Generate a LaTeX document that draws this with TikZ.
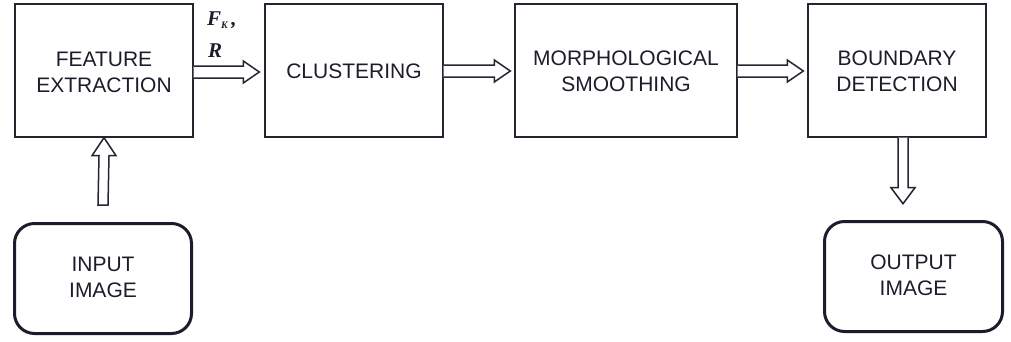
\documentclass[tikz,border=0pt]{standalone}
\usepackage{fontspec}
\setmainfont{Liberation Sans}
\newfontfamily\serifit{Liberation Serif}
\usetikzlibrary{calc}
\definecolor{ink}{HTML}{25252F}
\definecolor{inkdark}{HTML}{1C1C2C}
\newcommand\bt[2][3pt]{\raisebox{-#1}[\height][\depth]{\begin{tabular}{@{}c@{}}#2\end{tabular}}}
\tikzset{
  box/.style={draw=ink, line width=1.4pt, inner sep=0pt, align=center,
    text=inkdark, font=\fontsize{21}{26}\selectfont},
  rbox/.style={draw=inkdark, line width=3pt, rounded corners=20pt, inner sep=0pt,
    align=center, text=inkdark, font=\fontsize{21}{26}\selectfont},
  blk/.style={draw=ink, line width=1.5pt, fill=white, line join=miter},
  lbl/.style={text=inkdark, inner sep=0pt, font=\serifit\bfseries\itshape\fontsize{21}{22}\selectfont}
}
\newcommand\harrow[2]{%
  \draw[blk] ($(#1)+(0,6)$) -- ($(#2)+(-16,6)$) -- ($(#2)+(-16,11)$) -- (#2)
    -- ($(#2)+(-16,-11)$) -- ($(#2)+(-16,-6)$) -- ($(#1)+(0,-6)$);}
\newcommand\uparrowblk[2]{%
  \draw[blk] ($(#1)+(-5,0)$) -- ($(#2)+(-5,-18)$) -- ($(#2)+(-12,-18)$) -- (#2)
    -- ($(#2)+(12,-18)$) -- ($(#2)+(5,-18)$) -- ($(#1)+(5,0)$) -- cycle;}
\newcommand\downarrowblk[2]{%
  \draw[blk] ($(#1)+(-5,0)$) -- ($(#2)+(-5,16)$) -- ($(#2)+(-12,16)$) -- (#2)
    -- ($(#2)+(12,16)$) -- ($(#2)+(5,16)$) -- ($(#1)+(5,0)$);}
\begin{document}
\begin{tikzpicture}[x=1pt,y=1pt]
\useasboundingbox (0,0) rectangle (1011,341);
% blocks (y = 341 - pixel row)
\node[box, minimum width=178pt, minimum height=133pt] (fe) at (104,270.5) {\bt[4pt]{FEATURE\\EXTRACTION}};
\node[box, minimum width=178pt, minimum height=133pt] (cl) at (354,270.5) {\bt{CLUSTERING}};
\node[box, minimum width=222pt, minimum height=133pt] (ms) at (626,270.5) {\bt{MORPHOLOGICAL\\SMOOTHING}};
\node[box, minimum width=178pt, minimum height=133pt] (bd) at (897,270.5) {\bt{BOUNDARY\\DETECTION}};
\node[rbox, minimum width=177pt, minimum height=110pt] (in) at (103,62.5) {\bt[1pt]{INPUT\\IMAGE}};
\node[rbox, minimum width=178pt, minimum height=110pt] (out) at (913.5,64.5) {\bt[1pt]{OUTPUT\\IMAGE}};
% labels
\node[lbl, anchor=base west] (fk) at (207,316) {F\raisebox{-0.35ex}{\fontsize{10}{10}\selectfont K}\,,};
\node[lbl, anchor=base west] (r) at (208,284) {R};
% connectors
\coordinate (a1s) at ($(fe.east)+(0,-1.5)$);
\coordinate (a1e) at ($(cl.west)+(-5,-1.5)$);
\harrow{a1s}{a1e}
\coordinate (a2s) at ($(cl.east)+(0,-0.5)$);
\coordinate (a2e) at ($(ms.west)+(-4,-0.5)$);
\harrow{a2s}{a2e}
\coordinate (a3s) at ($(ms.east)+(0,-0.5)$);
\coordinate (a3e) at ($(bd.west)+(-4,-0.5)$);
\harrow{a3s}{a3e}
\coordinate (a4s) at ($(in.north)+(0,17)$);
\coordinate (a4e) at (fe.south);
\uparrowblk{a4s}{a4e}
\coordinate (a5s) at ($(bd.south)+(6,0)$);
\coordinate (a5e) at ($(bd.south)+(6,-66)$);
\downarrowblk{a5s}{a5e}
\end{tikzpicture}
\end{document}
